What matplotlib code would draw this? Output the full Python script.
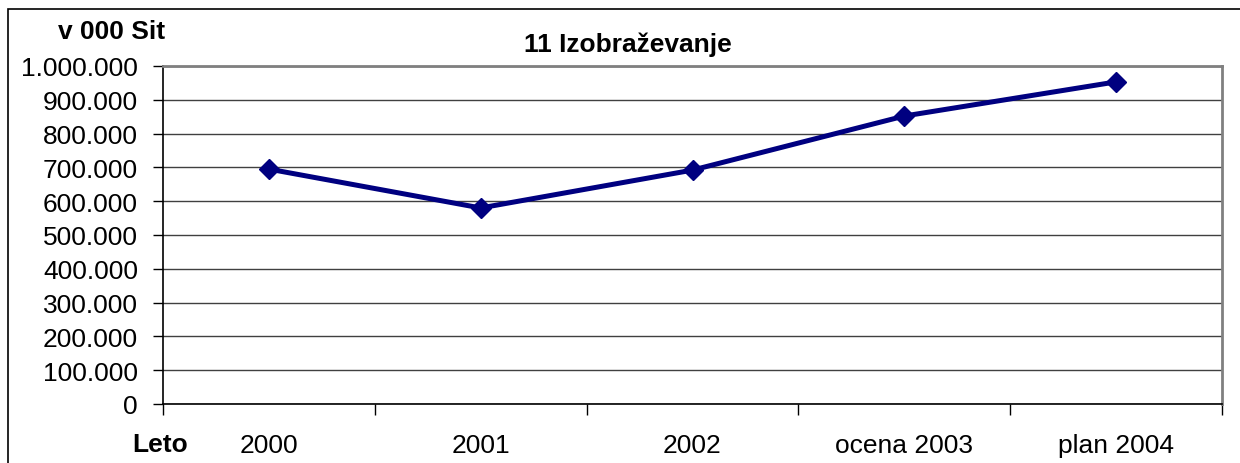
import matplotlib
matplotlib.use("Agg")
import matplotlib.pyplot as plt
import matplotlib.patches as patches
from matplotlib.ticker import FuncFormatter

plt.rcParams['font.family'] = ['Liberation Sans', 'DejaVu Sans']

# podatki
leta = ["2000", "2001", "2002", "ocena 2003", "plan 2004"]
vrednosti = [695000, 580000, 692000, 852000, 953000]
y_ticks = [0, 100000, 200000, 300000, 400000, 500000, 600000, 700000, 800000, 900000, 1000000]

W, H = 1240, 464
fs = 19
fig = plt.figure(figsize=(W / 100, H / 100), dpi=100)
ax = fig.add_axes([163 / W, 1 - 405 / H, (1222 - 163) / W, (405 - 67) / H])

x = list(range(len(leta)))
ax.plot(x, vrednosti, color='#000080', linewidth=3.6, marker='D', markersize=10,
        markerfacecolor='#000080', markeredgecolor='#000080', zorder=3)

ax.set_xlim(-0.5, len(leta) - 0.5)
ax.set_ylim(0, 1000000)
ax.set_yticks(y_ticks)
ax.yaxis.set_major_formatter(FuncFormatter(lambda v, p: f"{int(v):,}".replace(",", ".")))

# x osi: oznake na sredini, kljukice na mejah
ax.set_xticks([i - 0.5 for i in range(len(leta) + 1)])
ax.set_xticklabels([])
ax.set_xticks(x, minor=True)
ax.set_xticklabels(leta, minor=True)
ax.tick_params(axis='x', which='major', length=8, width=1, color='black', direction='out')
ax.tick_params(axis='x', which='minor', length=0, pad=21, labelsize=fs)
ax.tick_params(axis='y', length=7, width=1, color='black', direction='out', labelsize=fs, pad=11)

ax.grid(axis='y', color='#404040', linewidth=1)
ax.set_axisbelow(True)

ax.spines['left'].set_color('black')
ax.spines['bottom'].set_color('black')
ax.spines['top'].set_color('#808080')
ax.spines['right'].set_color('#808080')
for s in ax.spines.values():
    s.set_linewidth(1.2)
ax.spines['top'].set_linewidth(2)
ax.spines['right'].set_linewidth(2)

fig.text(628 / W, 1 - 45 / H, "11 Izobraževanje", ha='center', va='center',
         fontsize=fs, fontweight='bold')
fig.text(112 / W, 1 - 32 / H, "v 000 Sit", ha='center', va='center',
         fontsize=fs, fontweight='bold')
fig.text(160 / W, 1 - 445 / H, "Leto", ha='center', va='center',
         fontsize=fs, fontweight='bold')

# okvir grafikona
okvir = patches.Rectangle((8 / W, -0.2), 1.2, 1.2 - 10 / H, transform=fig.transFigure,
                          fill=False, edgecolor='black', linewidth=1.2, clip_on=False)
fig.patches.append(okvir)

fig.savefig("out.png", dpi=100)
